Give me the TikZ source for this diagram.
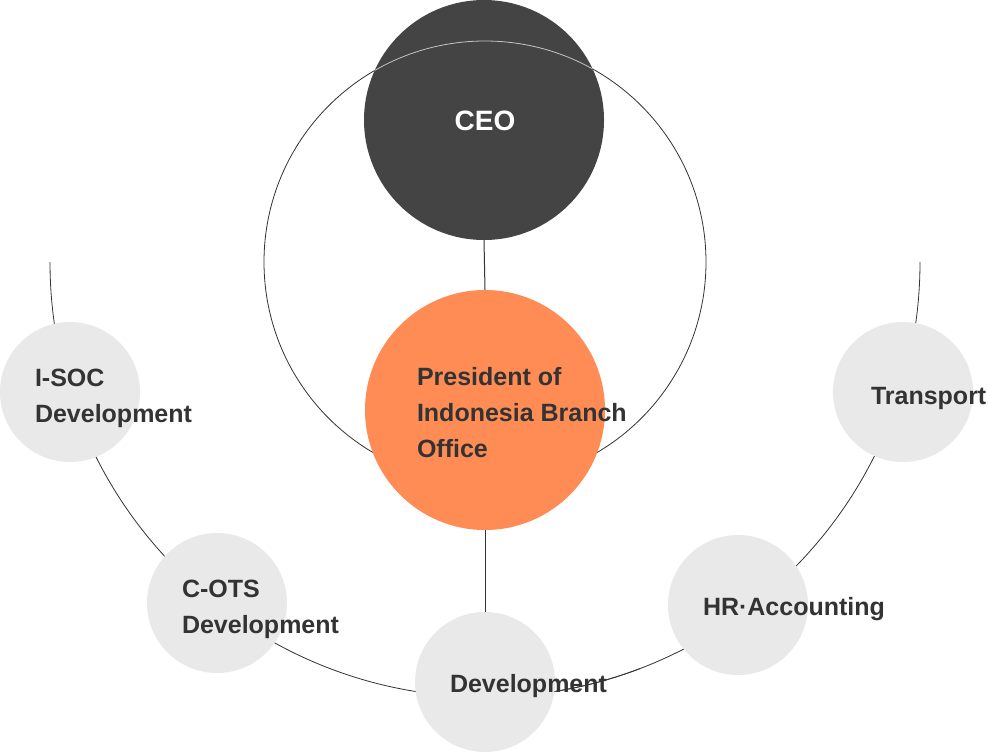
\documentclass[tikz,border=0pt]{standalone}
\usepackage{fontspec}
\setmainfont{Liberation Sans}
\definecolor{ceofill}{HTML}{444444}
\definecolor{presfill}{HTML}{FF8C55}
\definecolor{unitfill}{HTML}{E9E9E9}
\definecolor{txt}{HTML}{333333}
\definecolor{ringline}{HTML}{333333}
\definecolor{ringhi}{HTML}{C4C4C4}
\begin{document}
\begin{tikzpicture}[x=1pt,y=-1pt,
  ring/.style={circle,draw=ringline,line width=0.8pt,inner sep=0pt,outer sep=0pt},
  bigdisc/.style={circle,inner sep=0pt,outer sep=0pt,minimum size=240pt},
  unit/.style={circle,fill=unitfill,inner sep=0pt,outer sep=0pt,minimum size=140pt},
  lbl/.style={inner sep=0pt,outer sep=0pt,anchor=base west,align=left,text=txt,
    font=\bfseries\fontsize{25}{36}\selectfont},
  conn/.style={draw=ringline,line width=1pt}]
\useasboundingbox (0,0) rectangle (988,753);
\fill[white] (0,0) rectangle (988,753);
% big ring
\node[ring,minimum size=442pt] (bigring) at (485,262) {};
% bottom arc
\begin{scope}
  \clip (0,262) rectangle (988,753);
  \node[ring,minimum size=870pt] (arcring) at (485,262) {};
\end{scope}
% circles
\node[bigdisc,fill=ceofill] (ceo) at (484,120) {};
\node[bigdisc,fill=presfill] (pres) at (485,410) {};
\node[unit] (isoc) at (70,392) {};
\node[unit] (cots) at (217,603) {};
\node[unit] (dev) at (485,682) {};
\node[unit] (hr) at (738,605) {};
\node[unit] (trans) at (903,392) {};
% ring highlight over CEO
\begin{scope}
  \clip (484,120) circle[radius=120];
  \node[ring,draw=ringhi,minimum size=442pt] at (485,262) {};
\end{scope}
% connectors
\draw[conn] (ceo.south) -- (pres.north);
\draw[conn] (pres.south) -- (dev.north);
% texts
\node[lbl,anchor=base,text=white,font=\bfseries\fontsize{28}{34}\selectfont] (ceot) at (485,130.5) {CEO};
\node[lbl] (prest) at (417,457) {President of\\Indonesia Branch\\Office};
\node[lbl] (isoct) at (35,422) {I-SOC\\Development};
\node[lbl] (cotst) at (182,633) {C-OTS\\Development};
\node[lbl] (devt) at (450,692) {Development};
\node[lbl] (hrt) at (703,615) {HR·Accounting};
\node[lbl] (transt) at (871,404) {Transport};
% arc segment over the overflowing text
\begin{scope}
  \clip (555.5,650) rectangle (640,720);
  \node[ring,minimum size=870pt] at (485,262) {};
\end{scope}
\end{tikzpicture}
\end{document}
